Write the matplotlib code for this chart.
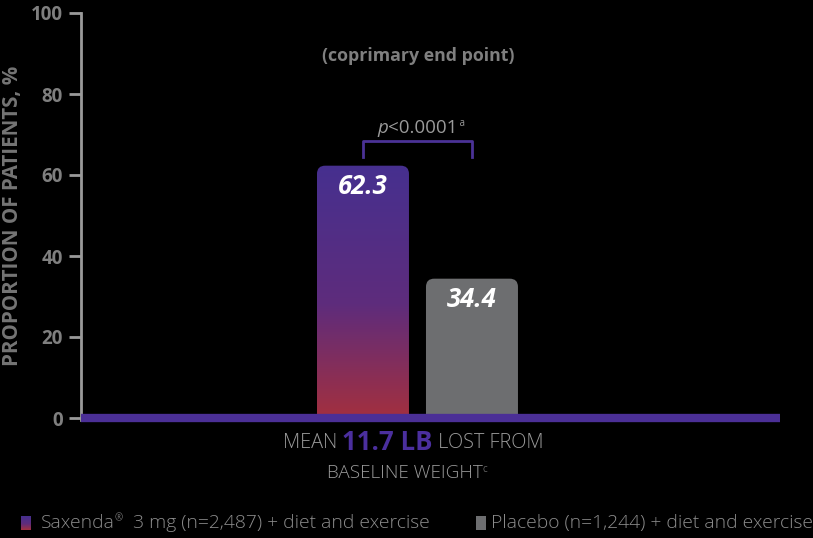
import numpy as np
import matplotlib
matplotlib.use("Agg")
import matplotlib.pyplot as plt
from matplotlib.patches import FancyBboxPatch, Rectangle
from matplotlib.colors import LinearSegmentedColormap

# data
groups = ["Saxenda 3 mg", "Placebo"]
values = [62.3, 34.4]
yticks = [0, 20, 40, 60, 80, 100]
legend_labels = ["Saxenda", "\u00ae", "  3 mg (n=2,487) + diet and exercise",
                 "Placebo (n=1,244) + diet and exercise"]

W, H = 813, 538
BG = "black"
GRAY = "#7f7f7f"
LGRAY = "#9a9a9a"
PLACEBO = "#6d6e70"
grad = LinearSegmentedColormap.from_list("sax", [(0, "#a3303f"), (0.45, "#5e2c7c"), (1, "#46308f")])

plt.rcParams["font.family"] = ["Open Sans", "DejaVu Sans"]

def px(x, y):
    return x / W, 1 - y / H

fig = plt.figure(figsize=(W / 100, H / 100), dpi=100, facecolor=BG)
ax = fig.add_axes([81 / W, 1 - 418 / H, (780 - 81) / W, (418 - 13) / H], facecolor=BG)
ax.set_ylim(0, 100)
renderer = fig.canvas.get_renderer()

def chain(x, y, parts):
    # place text pieces one after another, each (text, dy, kwargs)
    cx = x
    for s, dy, kw in parts:
        t = fig.text(cx / W, 1 - (y + dy) / H, s, ha="left", va="center", **kw)
        cx = t.get_window_extent(renderer).x1
    return cx

# axis styling
for s in ("top", "right", "bottom"):
    ax.spines[s].set_visible(False)
ax.spines["left"].set_color("#9a9a9a")
ax.spines["left"].set_linewidth(2)
ax.spines["left"].set_bounds(-0.6, 100)
ax.set_xticks([])
ax.set_yticks(yticks)
ax.tick_params(axis="y", colors="#9a9a9a", width=2, length=9, labelsize=13.5, labelcolor=GRAY, pad=4)
for t in ax.get_yticklabels():
    t.set_fontweight("bold")
ax.set_ylabel("PROPORTION OF PATIENTS, %", color="#757575", fontsize=14.8, fontweight="bold")
ax.yaxis.set_label_coords(-58 / 699, 0.5)

# bars
x = np.arange(len(values))
bw = 0.844
rad = 0.075
asp = 27
for i, v in enumerate(values):
    patch = FancyBboxPatch((x[i] - bw / 2 + rad, -6), bw - 2 * rad, v + 6 - rad * asp,
                           boxstyle=f"round,pad={rad},rounding_size={rad}",
                           mutation_aspect=asp, linewidth=0,
                           facecolor=PLACEBO if i == 1 else "none", zorder=2)
    ax.add_patch(patch)
    if i == 0:
        g = np.linspace(0, 1, 256).reshape(-1, 1)
        im = ax.imshow(g, cmap=grad, origin="lower", aspect="auto",
                       extent=[x[i] - bw / 2, x[i] + bw / 2, 0, v], zorder=2)
        im.set_clip_path(patch)
    ax.text(x[i], v - 5.2, f"{v:.1f}", ha="center", va="center", color="white",
            fontsize=18.5, fontweight="bold", fontstyle="italic", zorder=4)

# baseline
ax.plot([-2.587, 3.826], [0, 0], color="#4b2f96", lw=6, solid_capstyle="butt", zorder=3, clip_on=False)
ax.set_xlim(-2.587, 3.826)

# significance bracket
top = max(values) + 6.1
ax.plot([x[0], x[0], x[1], x[1]], [top - 4, top, top, top - 4], color="#4b3296", lw=2, zorder=3)
chain(377, 128, [("p", 0, dict(color=LGRAY, fontsize=13.5, fontstyle="italic")),
                 ("<0.0001", 0, dict(color=LGRAY, fontsize=13.5)),
                 (" a", -4, dict(color=LGRAY, fontsize=7))])

fig.text(*px(418, 56), "(coprimary end point)", ha="center", va="center",
         color=GRAY, fontsize=12.8, fontweight="bold")

# center annotation
light = dict(color=LGRAY, fontsize=14.3, fontweight="light")
chain(283, 443, [("MEAN ", 0, light),
                 ("11.7 LB", 0, dict(color="#4b2f9e", fontsize=18.5, fontweight="bold")),
                 (" LOST FROM", 0, light)])
chain(327, 473, [("BASELINE WEIGHT", 0, dict(color=LGRAY, fontsize=13.6, fontweight="light")),
                 ("c", -4, dict(color=LGRAY, fontsize=7, fontweight="light"))])

# legend
lax = fig.add_axes([21 / W, 1 - 530 / H, 10 / W, 14 / H])
lax.imshow(np.linspace(0, 1, 64).reshape(-1, 1), cmap=grad, origin="lower", aspect="auto")
lax.axis("off")
fig.patches.append(Rectangle(px(476, 530), 10 / W, 14 / H, transform=fig.transFigure,
                             facecolor=PLACEBO, edgecolor="none"))
leg = dict(color="#8c8c8c", fontsize=13.9, fontweight="light")
chain(41, 523, [(legend_labels[0], 0, leg),
                (legend_labels[1], -4, dict(color="#8c8c8c", fontsize=7, fontweight="light")),
                (legend_labels[2], 0, leg)])
fig.text(*px(491, 523), legend_labels[3], ha="left", va="center", **leg)

fig.savefig("out.png", dpi=100, facecolor=BG)
